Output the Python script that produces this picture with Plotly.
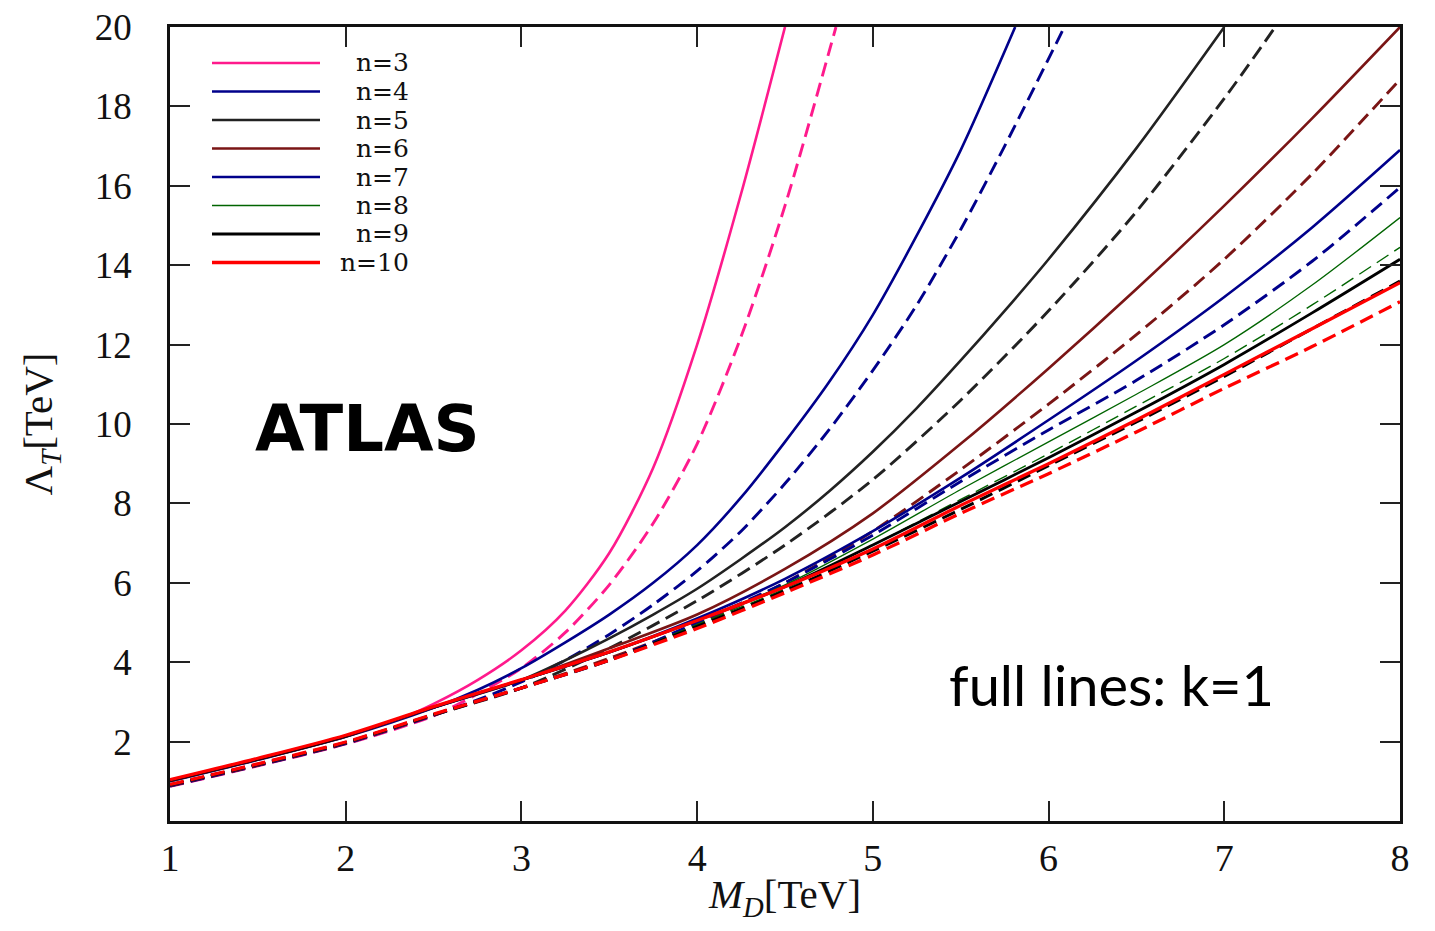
import plotly.graph_objects as go

# ---------------- data ----------------
# M_D [TeV] sample points and Lambda_T [TeV] values; solid = k=1, dashed = second k value
n3_x_solid = [1.0, 1.5, 2.0, 2.35, 2.5, 2.75, 3.0, 3.25, 3.5, 3.75, 4.0, 4.25, 4.5]
n3_y_solid = [1.03, 1.57, 2.15, 2.65, 2.95, 3.55, 4.3, 5.3, 6.75, 8.9, 12.0, 15.8, 20.0]
n3_x_dash = [1.0, 1.5, 2.0, 2.5, 2.75, 3.0, 3.25, 3.5, 3.75, 4.0, 4.25, 4.5, 4.79]
n3_y_dash = [0.87, 1.39, 1.94, 2.65, 3.2, 3.85, 4.75, 5.95, 7.5, 9.5, 12.2, 15.5, 20.0]

n4_x_solid = [1.0, 1.5, 2.0, 2.5, 2.75, 3.0, 3.25, 3.5, 3.75, 4.0, 4.25, 4.5, 4.75, 5.0, 5.25, 5.5, 5.81]
n4_y_solid = [1.0, 1.54, 2.12, 2.85, 3.3, 3.85, 4.5, 5.2, 6.0, 6.95, 8.15, 9.55, 11.05, 12.75, 14.75, 16.9, 20.0]
n4_x_dash = [1.0, 1.5, 2.0, 2.5, 2.75, 3.0, 3.25, 3.5, 3.75, 4.0, 4.25, 4.5, 4.75, 5.0, 5.25, 5.5, 5.75, 6.09]
n4_y_dash = [0.88, 1.4, 1.95, 2.66, 3.05, 3.5, 4.05, 4.7, 5.45, 6.3, 7.3, 8.5, 9.85, 11.35, 13.0, 14.9, 17.0, 20.0]

n5_x_solid = [1.0, 1.5, 2.0, 2.5, 3.0, 3.25, 3.5, 3.75, 4.0, 4.25, 4.5, 4.75, 5.0, 5.25, 5.5, 5.75, 6.0, 6.5, 7.0]
n5_y_solid = [1.01, 1.55, 2.13, 2.86, 3.55, 4.05, 4.6, 5.2, 5.85, 6.6, 7.4, 8.3, 9.3, 10.4, 11.6, 12.85, 14.15, 16.95, 20.0]
n5_x_dash = [1.0, 1.5, 2.0, 2.5, 3.0, 3.5, 4.0, 4.5, 5.0, 5.5, 6.0, 6.5, 7.0, 7.29]
n5_y_dash = [0.89, 1.41, 1.96, 2.67, 3.35, 4.35, 5.55, 6.95, 8.6, 10.6, 12.85, 15.35, 18.2, 20.0]

MD = [1.0, 1.5, 2.0, 2.5, 3.0, 3.5, 4.0, 4.5, 5.0, 5.5, 6.0, 6.5, 7.0, 7.5, 8.0]
n6_solid = [1.01, 1.55, 2.13, 2.86, 3.55, 4.35, 5.2, 6.35, 7.75, 9.5, 11.4, 13.4, 15.5, 17.7, 20.0]
n6_dash = [0.89, 1.41, 1.96, 2.67, 3.35, 4.1, 4.95, 6.0, 7.3, 8.85, 10.5, 12.25, 14.15, 16.3, 18.68]
n7_solid = [1.02, 1.56, 2.14, 2.86, 3.55, 4.25, 5.1, 6.1, 7.3, 8.65, 10.1, 11.6, 13.2, 14.95, 16.9]
n7_dash = [0.9, 1.42, 1.97, 2.68, 3.35, 4.05, 5.0, 6.0, 7.2, 8.55, 9.85, 11.1, 12.5, 14.1, 15.96]
n8_solid = [1.02, 1.56, 2.14, 2.87, 3.55, 4.25, 5.05, 5.95, 7.1, 8.35, 9.55, 10.75, 12.0, 13.5, 15.2]
n8_dash = [0.9, 1.42, 1.97, 2.68, 3.35, 4.05, 4.95, 5.85, 6.95, 8.1, 9.25, 10.45, 11.65, 13.0, 14.45]
n9_solid = [1.02, 1.56, 2.14, 2.87, 3.55, 4.25, 5.05, 5.9, 6.95, 8.05, 9.15, 10.3, 11.5, 12.8, 14.15]
n9_dash = [0.91, 1.43, 1.98, 2.68, 3.35, 4.05, 4.9, 5.8, 6.8, 7.85, 8.95, 10.05, 11.2, 12.4, 13.6]
n10_solid = [1.04, 1.58, 2.16, 2.88, 3.56, 4.26, 5.05, 5.9, 6.85, 7.95, 9.0, 10.1, 11.25, 12.4, 13.56]
n10_dash = [0.92, 1.44, 1.99, 2.69, 3.35, 4.05, 4.85, 5.75, 6.7, 7.75, 8.75, 9.8, 10.9, 11.95, 13.08]

labels = ["n=3", "n=4", "n=5", "n=6", "n=7", "n=8", "n=9", "n=10"]
colors = ["#ff1a8c", "#00008b", "#222222", "#7a1515", "#00008b", "#006400", "#000000", "#ff0000"]
widths = [2.6, 2.6, 2.6, 2.6, 2.6, 1.3, 2.8, 3.3]
dash_widths = [2.9, 2.9, 2.9, 2.9, 2.9, 1.4, 3.0, 3.3]

series = [
    (n3_x_solid, n3_y_solid, n3_x_dash, n3_y_dash),
    (n4_x_solid, n4_y_solid, n4_x_dash, n4_y_dash),
    (n5_x_solid, n5_y_solid, n5_x_dash, n5_y_dash),
    (MD, n6_solid, MD, n6_dash),
    (MD, n7_solid, MD, n7_dash),
    (MD, n8_solid, MD, n8_dash),
    (MD, n9_solid, MD, n9_dash),
    (MD, n10_solid, MD, n10_dash),
]

fig = go.Figure()
for (xs, ys, xd, yd), lab, col, w in zip(series, labels, colors, dash_widths):
    fig.add_trace(go.Scatter(x=xd, y=yd, mode="lines", name=lab + " dashed",
                             line=dict(color=col, width=w, dash="14px,7px", shape="spline", smoothing=0.8),
                             showlegend=False, hoverinfo="skip"))
for (xs, ys, xd, yd), lab, col, w in zip(series, labels, colors, widths):
    fig.add_trace(go.Scatter(x=xs, y=ys, mode="lines", name=lab,
                             line=dict(color=col, width=w, shape="spline", smoothing=0.8),
                             showlegend=False, hoverinfo="skip"))

# ---------------- layout ----------------
# the page body has an 8px margin, so the figure is made 16px smaller
W, H = 1419, 915
L, T = 162, 19
PW, PH = 1230, 794
R = W - L - PW
B = H - T - PH

def px_x(px):
    # screenshot x pixel -> paper coordinate
    return (px - 170) / PW

def px_y(py):
    # screenshot y pixel -> paper coordinate
    return (821 - py) / PH

shapes = []
annotations = []
leg_y0 = 63
leg_dy = 28.5
for i, (lab, col, w) in enumerate(zip(labels, colors, widths)):
    yy = px_y(leg_y0 + i * leg_dy)
    shapes.append(dict(type="line", xref="paper", yref="paper",
                       x0=px_x(212), x1=px_x(320), y0=yy, y1=yy,
                       line=dict(color=col, width=w)))
    annotations.append(dict(text=lab, xref="paper", yref="paper", x=px_x(411), y=yy,
                            xanchor="right", yanchor="middle", showarrow=False,
                            font=dict(family="DejaVu Serif", size=25, color="#111")))

annotations.append(dict(text="<b>ATLAS</b>", xref="paper", yref="paper",
                        x=px_x(367), y=px_y(429), xanchor="center", yanchor="middle",
                        showarrow=False, font=dict(family="DejaVu Sans", size=64, color="black")))
annotations.append(dict(text="full lines: k=1", xref="paper", yref="paper",
                        x=px_x(1111), y=px_y(684), xanchor="center", yanchor="middle",
                        showarrow=False, font=dict(family="Lato", size=56, color="black")))

axis_common = dict(showgrid=False, zeroline=False, showline=True, linecolor="#111",
                   linewidth=2.5, mirror="allticks", ticks="inside", ticklen=20,
                   tickwidth=1.6, tickcolor="#222", automargin=True,
                   ticklabeloverflow="allow")

fig.update_layout(
    width=W, height=H,
    margin=dict(l=L, r=R, t=T, b=B, autoexpand=False),
    paper_bgcolor="white", plot_bgcolor="white",
    shapes=shapes, annotations=annotations,
    xaxis=dict(range=[1, 8], tickvals=[1, 2, 3, 4, 5, 6, 7, 8],
               tickfont=dict(family="Liberation Serif", size=38, color="#111"),
               ticklabelstandoff=2,
               title=dict(text="<i>M</i><sub><i>D</i></sub>[TeV]",
                          font=dict(family="Liberation Serif", size=41, color="#111"),
                          standoff=14),
               **axis_common),
    yaxis=dict(range=[0, 20], tickvals=[2, 4, 6, 8, 10, 12, 14, 16, 18, 20],
               tickfont=dict(family="Liberation Serif", size=37, color="#111"),
               ticklabelstandoff=28,
               title=dict(text="Λ<sub><i>T</i></sub>[TeV]",
                          font=dict(family="Liberation Serif", size=41, color="#111"),
                          standoff=30),
               **axis_common),
    showlegend=False,
)

fig.write_html("out.html")
